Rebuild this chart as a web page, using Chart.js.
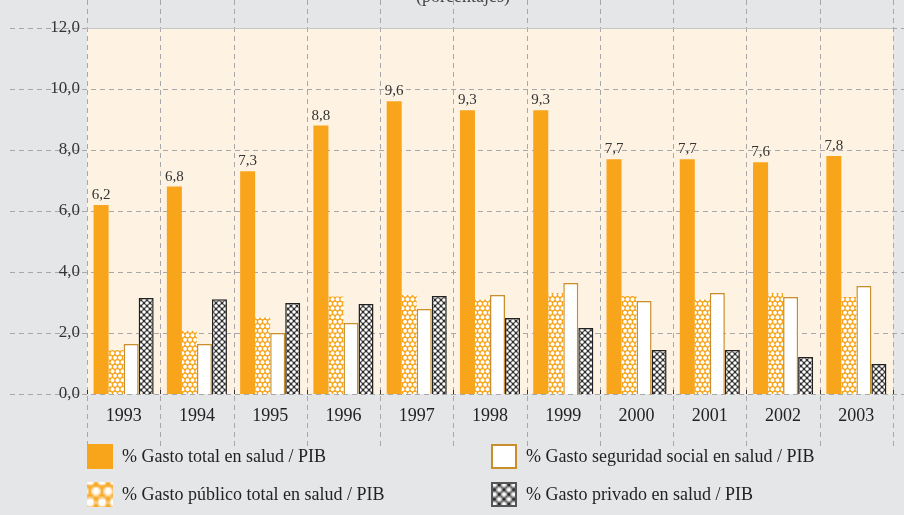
<!DOCTYPE html>
<html>
<head>
<meta charset="utf-8">
<script src="https://cdn.jsdelivr.net/npm/chart.js@4.4.1/dist/chart.umd.min.js"></script>
<style>
  html, body { margin: 0; padding: 0; background: #e5e6e8; }
  #wrap { width: 904px; height: 515px; }
</style>
</head>
<body>
<div id="wrap"><canvas id="gastoChart" width="904" height="515"></canvas></div>
<script>
(function () {
  'use strict';

  // Series (% del PIB)
  const years = ['1993', '1994', '1995', '1996', '1997', '1998', '1999', '2000', '2001', '2002', '2003'];
  const gastoTotal = [6.2, 6.8, 7.3, 8.8, 9.6, 9.3, 9.3, 7.7, 7.7, 7.6, 7.8];
  const gastoPublico = [1.44, 2.07, 2.52, 3.2, 3.25, 3.11, 3.31, 3.21, 3.11, 3.31, 3.18];
  const gastoSegSocial = [1.64, 1.64, 2.0, 2.33, 2.79, 3.25, 3.64, 3.05, 3.31, 3.18, 3.54];
  const gastoPrivado = [3.15, 3.11, 2.98, 2.95, 3.21, 2.49, 2.16, 1.44, 1.44, 1.21, 0.98];

  const seriesNames = [
    '% Gasto total en salud / PIB',
    '% Gasto público total en salud / PIB',
    '% Gasto seguridad social en salud / PIB',
    '% Gasto privado en salud / PIB'
  ];
  const yMin = 0, yMax = 12, yStep = 2;
  const subtitle = '(porcentajes)';

  const FONT = '"Liberation Serif", "DejaVu Serif", serif';
  const ORANGE = '#f8a51c';
  const GOLD = '#c98f2c';
  const DARK = '#2e2e2e';
  const GRID = '#a8a8ab';

  const fmt = v => v.toFixed(1).replace('.', ',');

  // Fondos con trama
  function makeTile(w, h, paint) {
    const c = document.createElement('canvas');
    c.width = w; c.height = h;
    paint(c.getContext('2d'), w, h);
    return c;
  }
  const dotsTile = makeTile(5, 9, (g, w, h) => {
    g.fillStyle = ORANGE; g.fillRect(0, 0, w, h);
    g.fillStyle = '#fff';
    [[2.5, 2.25], [0, 6.75], [5, 6.75]].forEach(([cx, cy]) => {
      g.beginPath(); g.arc(cx, cy, 1.9, 0, Math.PI * 2); g.fill();
    });
  });
  const hatchTile = makeTile(6, 6, (g, w, h) => {
    g.fillStyle = DARK; g.fillRect(0, 0, w, h);
    g.fillStyle = '#fff';
    [[0, 0], [6, 0], [0, 6], [6, 6], [3, 3]].forEach(([cx, cy]) => {
      g.beginPath(); g.arc(cx, cy, 1.8, 0, Math.PI * 2); g.fill();
    });
  });

  const ctx = document.getElementById('gastoChart').getContext('2d');
  const dotsPattern = ctx.createPattern(dotsTile, 'repeat');
  const hatchPattern = ctx.createPattern(hatchTile, 'repeat');
  const dotsBig = ctx.createPattern(dotsTile, 'repeat');
  dotsBig.setTransform(new DOMMatrix().scale(2.4));
  const hatchBig = ctx.createPattern(hatchTile, 'repeat');
  hatchBig.setTransform(new DOMMatrix().scale(1.6));

  // Fondo, cuadrícula punteada y título recortado
  const backdrop = {
    id: 'backdrop',
    beforeDraw(chart) {
      const { ctx: c, chartArea: a, scales: { x, y } } = chart;
      c.save();
      c.fillStyle = '#e5e6e8';
      c.fillRect(0, 0, chart.width, chart.height);
      c.fillStyle = '#fef3e2';
      c.fillRect(a.left, a.top, a.right - a.left, a.bottom - a.top);

      c.fillStyle = '#444';
      c.font = '18px ' + FONT;
      c.textAlign = 'center';
      c.textBaseline = 'alphabetic';
      c.fillText(subtitle, 463, 2);

      c.strokeStyle = GRID;
      c.lineWidth = 1;
      c.setLineDash([5, 4]);
      y.ticks.forEach(t => {
        const py = Math.round(y.getPixelForValue(t.value)) + 0.5;
        c.beginPath(); c.moveTo(10, py); c.lineTo(chart.width, py); c.stroke();
      });
      const half = (x.getPixelForValue(1) - x.getPixelForValue(0)) / 2;
      for (let i = 0; i <= years.length; i++) {
        const px = Math.round(x.getPixelForValue(i) - half) + 0.5;
        c.beginPath(); c.moveTo(px, 0); c.lineTo(px, 448); c.stroke();
      }
      c.setLineDash([]);
      c.strokeStyle = '#c4c4c6';
      c.beginPath(); c.moveTo(a.left, a.top + 0.5); c.lineTo(a.right, a.top + 0.5); c.stroke();

      c.strokeStyle = '#333';
      for (let i = 0; i <= years.length; i++) {
        const px = Math.round(x.getPixelForValue(i) - half) + 0.5;
        c.beginPath(); c.moveTo(px, a.bottom - 4); c.lineTo(px, a.bottom); c.stroke();
      }
      c.restore();
    }
  };

  // Etiquetas de valor sobre el gasto total
  const valueLabels = {
    id: 'valueLabels',
    afterDatasetsDraw(chart) {
      const c = chart.ctx;
      const meta = chart.getDatasetMeta(0);
      c.save();
      c.fillStyle = '#333';
      c.font = '15px ' + FONT;
      c.textAlign = 'center';
      c.textBaseline = 'alphabetic';
      meta.data.forEach((bar, i) => {
        c.fillText(fmt(gastoTotal[i]), bar.x, bar.y - 6);
      });
      c.restore();
    }
  };

  // Leyenda en dos columnas
  const legendBox = {
    id: 'legendBox',
    afterDraw(chart) {
      const c = chart.ctx;
      const a = chart.chartArea;
      const slots = [
        { ds: 0, x: a.left, y: 444 },
        { ds: 2, x: 491, y: 444 },
        { ds: 1, x: a.left, y: 482 },
        { ds: 3, x: 491, y: 482 }
      ];
      const swatch = [
        { fill: ORANGE, border: null },
        { fill: dotsBig, border: null },
        { fill: '#fff', border: GOLD },
        { fill: hatchBig, border: '#555' }
      ];
      c.save();
      slots.forEach(s => {
        const sw = swatch[s.ds];
        c.fillStyle = sw.fill;
        c.fillRect(s.x, s.y, 26, 25);
        if (sw.border) {
          c.strokeStyle = sw.border;
          c.lineWidth = 2;
          c.strokeRect(s.x + 1, s.y + 1, 24, 23);
        }
        c.fillStyle = '#222';
        c.font = '18px ' + FONT;
        c.textAlign = 'left';
        c.textBaseline = 'middle';
        c.fillText(chart.data.datasets[s.ds].label, s.x + 35, s.y + 13);
      });
      c.restore();
    }
  };

  const barBase = { barPercentage: 1.0, categoryPercentage: 0.82 };

  new Chart(ctx, {
    type: 'bar',
    data: {
      labels: years,
      datasets: [
        Object.assign({ label: seriesNames[0], data: gastoTotal, backgroundColor: ORANGE, borderWidth: 0 }, barBase),
        Object.assign({ label: seriesNames[1], data: gastoPublico, backgroundColor: dotsPattern, borderWidth: 0 }, barBase),
        Object.assign({ label: seriesNames[2], data: gastoSegSocial, backgroundColor: '#ffffff', borderColor: GOLD, borderWidth: 1.5 }, barBase),
        Object.assign({ label: seriesNames[3], data: gastoPrivado, backgroundColor: hatchPattern, borderColor: '#222', borderWidth: 1.5 }, barBase)
      ]
    },
    options: {
      responsive: false,
      animation: false,
      layout: { padding: { top: 28, right: 11, left: 0, bottom: 0 } },
      plugins: {
        legend: { display: false },
        tooltip: { enabled: false }
      },
      scales: {
        x: {
          grid: { display: false, drawTicks: false },
          border: { display: false },
          ticks: { color: '#222', font: { family: FONT, size: 18 }, padding: 11 },
          afterFit(s) { s.height = 121; }
        },
        y: {
          min: yMin,
          max: yMax,
          grid: { display: false, drawTicks: false },
          border: { display: false },
          ticks: {
            stepSize: yStep,
            color: '#333',
            font: { family: FONT, size: 17 },
            padding: 7,
            callback: v => fmt(v)
          },
          afterFit(s) { s.width = 87; }
        }
      }
    },
    plugins: [backdrop, valueLabels, legendBox]
  });
})();
</script>
</body>
</html>
